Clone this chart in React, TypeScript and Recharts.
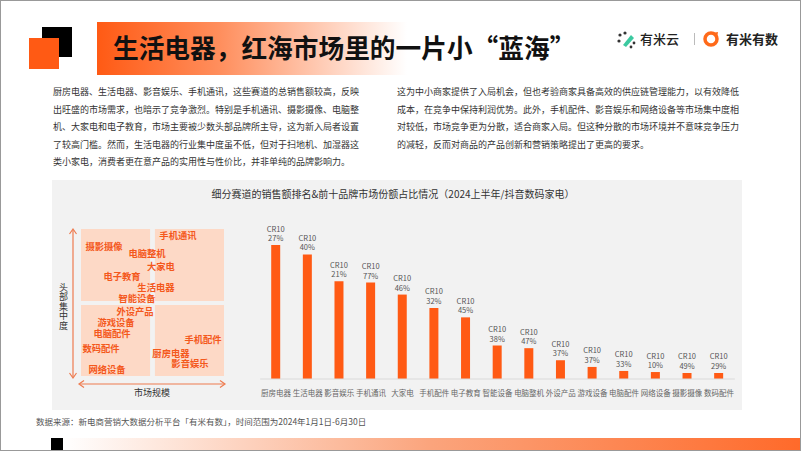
import React from "react";
import {
  BarChart,
  Bar,
  XAxis,
  YAxis,
  LabelList,
  ScatterChart,
  Scatter,
  ReferenceArea,
} from "recharts";

// bar chart: tracks ranked by sales, bar height = relative sales, label = CR10 share
const categories = [
  "厨房电器", "生活电器", "影音娱乐", "手机通讯", "大家电", "手机配件", "电子教育", "智能设备",
  "电脑整机", "外设产品", "游戏设备", "电脑配件", "网络设备", "摄影摄像", "数码配件",
];
const salesIndex = [100, 93, 73, 72, 63, 53, 46, 25, 23, 14, 9, 6, 5.2, 4.5, 4.5];
const cr10 = [27, 40, 21, 77, 46, 32, 45, 38, 47, 37, 37, 33, 10, 49, 29];

// quadrant map: market size (x) vs head concentration (y), 0-100
const quadrantNames = [
  "手机通讯", "摄影摄像", "电脑整机", "大家电", "电子教育", "生活电器", "智能设备", "外设产品",
  "游戏设备", "电脑配件", "数码配件", "网络设备", "手机配件", "厨房电器", "影音娱乐",
];
const quadrantX = [67.8, 16.1, 46.2, 55.9, 28.7, 52.4, 39.2, 37.8, 24.5, 21.7, 14.0, 18.2, 85.3, 62.9, 76.2];
const quadrantY = [95.9, 88.4, 83.7, 74.8, 68.0, 60.5, 52.8, 44.5, 37.0, 29.0, 19.0, 4.8, 25.2, 15.6, 8.8];

const leftParagraph = [
  "厨房电器、生活电器、影音娱乐、手机通讯，这些赛道的总销售额较高，反映",
  "出旺盛的市场需求，也暗示了竞争激烈。特别是手机通讯、摄影摄像、电脑整",
  "机、大家电和电子教育，市场主要被少数头部品牌所主导，这为新入局者设置",
  "了较高门槛。然而，生活电器的行业集中度虽不低，但对于扫地机、加湿器这",
  "类小家电，消费者更在意产品的实用性与性价比，并非单纯的品牌影响力。",
];
const rightParagraph = [
  "这为中小商家提供了入局机会，但也考验商家具备高效的供应链管理能力，以有效降低",
  "成本，在竞争中保持利润优势。此外，手机配件、影音娱乐和网络设备等市场集中度相",
  "对较低，市场竞争更为分散，适合商家入局。但这种分散的市场环境并不意味竞争压力",
  "的减轻，反而对商品的产品创新和营销策略提出了更高的要求。",
];

const ORANGE = "#FF5A14";
const FONT = '"Noto Sans CJK SC", "Noto Sans", sans-serif';

const barData = categories.map((name, i) => ({ name, sales: salesIndex[i], cr: cr10[i] }));
const quadrantData = quadrantNames.map((name, i) => ({ name, x: quadrantX[i], y: quadrantY[i] }));

const CategoryTick = ({ x, y, payload }: any) => (
  <text
    x={x}
    y={Number(y) + 13}
    textAnchor="middle"
    dominantBaseline="central"
    fontSize={7.5}
    fill="#666"
    fontFamily={FONT}
  >
    {payload.value}
  </text>
);

// two-line "CR10 / xx%" label above each bar
const CrLabel = (props: any) => {
  const cx = Number(props.x) + Number(props.width) / 2;
  const top = Number(props.y);
  return (
    <text x={cx} y={top - 13.5} fontFamily={FONT} fontSize={7.5} fill="#555" textAnchor="middle">
      <tspan x={cx}>CR10</tspan>
      <tspan x={cx} dy={9.5}>{props.value}%</tspan>
    </text>
  );
};

const QuadrantLabel = ({ cx, cy, payload }: any) => (
  <text
    x={cx}
    y={cy}
    textAnchor="middle"
    dominantBaseline="central"
    fontSize={9.3}
    fontWeight={700}
    fill="#F4581C"
    fontFamily={FONT}
  >
    {payload.name}
  </text>
);

const Para = ({ lines, left }: { lines: string[]; left: number }) => (
  <div style={{ position: "absolute", left, top: 83, fontSize: 9, lineHeight: "17.5px", color: "#333" }}>
    {lines.map((l, i) => (
      <div key={i} style={{ whiteSpace: "nowrap" }}>{l}</div>
    ))}
  </div>
);

export default function App() {
  return (
    <div
      style={{
        position: "fixed",
        left: 0,
        top: 0,
        width: 802,
        height: 451,
        background: "#fff",
        overflow: "hidden",
        fontFamily: FONT,
      }}
    >
      <div style={{ position: "absolute", left: 0, top: 0, width: 801, height: 451, boxSizing: "border-box", border: "1px solid #999" }} />

      {/* corner squares + title band */}
      <div style={{ position: "absolute", left: 42, top: 27, width: 30, height: 30, background: "#000" }} />
      <div style={{ position: "absolute", left: 29, top: 38, width: 30, height: 31, background: ORANGE }} />
      <div
        style={{
          position: "absolute",
          left: 97,
          top: 22,
          width: 310,
          height: 53,
          background: `linear-gradient(to right, ${ORANGE} 0%, #FF8F5E 40%, #FFFFFF 100%)`,
        }}
      />
      <div
        style={{
          position: "absolute",
          left: 113,
          top: 29,
          fontSize: 25.7,
          fontWeight: 700,
          color: "#111",
          lineHeight: "36px",
          whiteSpace: "nowrap",
        }}
      >
        生活电器，红海市场里的一片小“蓝海”
      </div>

      {/* logos */}
      <svg style={{ position: "absolute", left: 616, top: 30 }} width={22} height={20}>
        <circle cx={4} cy={5} r={1.6} fill="#333" />
        <circle cx={9} cy={3} r={1.6} fill="#333" />
        <circle cx={3} cy={11} r={1.6} fill="#333" />
        <path d="M7 15 L15 5 L18 8 L10 17 Z" fill="#3CC9A0" />
        <circle cx={18} cy={13} r={1.4} fill="#333" />
        <circle cx={15} cy={17} r={1.4} fill="#333" />
      </svg>
      <div style={{ position: "absolute", left: 640, top: 30, fontSize: 13, fontWeight: 500, color: "#222", lineHeight: "18px" }}>
        有米云
      </div>
      <div style={{ position: "absolute", left: 694, top: 33, width: 1, height: 12, background: "#bbb" }} />
      <svg style={{ position: "absolute", left: 703, top: 31 }} width={16} height={16}>
        <circle cx={8} cy={8} r={6} fill="none" stroke="#FF6A1A" strokeWidth={3.5} />
        <path d="M9 2 L15 1 L14 7 Z" fill="#FF6A1A" />
      </svg>
      <div style={{ position: "absolute", left: 726, top: 30, fontSize: 13, fontWeight: 700, color: "#222", lineHeight: "18px" }}>
        有米有数
      </div>

      <Para lines={leftParagraph} left={53} />
      <Para lines={rightParagraph} left={397} />

      {/* chart panel */}
      <div style={{ position: "absolute", left: 52, top: 180, width: 690, height: 230, background: "#F2F2F2" }} />
      <div
        style={{
          position: "absolute",
          left: 52,
          top: 186,
          width: 690,
          textAlign: "center",
          fontSize: 10,
          color: "#333",
          lineHeight: "16px",
          paddingRight: 8,
          boxSizing: "border-box",
        }}
      >
        细分赛道的销售额排名&amp;前十品牌市场份额占比情况（2024上半年/抖音数码家电）
      </div>

      {/* quadrant map */}
      <div style={{ position: "absolute", left: 81, top: 229 }}>
        <ScatterChart width={143} height={147} margin={{ top: 0, right: 0, bottom: 0, left: 0 }}>
          <XAxis type="number" dataKey="x" domain={[0, 100]} hide />
          <YAxis type="number" dataKey="y" domain={[0, 100]} hide />
          <ReferenceArea x1={0} x2={48.3} y1={51} y2={100} fill="#FDD9C6" fillOpacity={1} stroke="none" />
          <ReferenceArea x1={51.7} x2={100} y1={51} y2={100} fill="#FDD9C6" fillOpacity={1} stroke="none" />
          <ReferenceArea x1={0} x2={48.3} y1={0} y2={48.3} fill="#FDD9C6" fillOpacity={1} stroke="none" />
          <ReferenceArea x1={51.7} x2={100} y1={0} y2={48.3} fill="#FDD9C6" fillOpacity={1} stroke="none" />
          <Scatter data={quadrantData} shape={QuadrantLabel} isAnimationActive={false} />
        </ScatterChart>
      </div>
      <svg style={{ position: "absolute", left: 60, top: 222 }} width={175} height={170}>
        <g stroke="#EE7B4F" strokeWidth={1.2} fill="none">
          <line x1={13} y1={8} x2={13} y2={155} />
          <polyline points="9.5,12 13,7 16.5,12" />
          <polyline points="9.5,151 13,156 16.5,151" />
          <line x1={20} y1={162} x2={164} y2={162} />
          <polyline points="24,158.5 19,162 24,165.5" />
          <polyline points="160,158.5 165,162 160,165.5" />
        </g>
      </svg>
      <div
        style={{
          position: "absolute",
          left: 57,
          top: 283,
          fontSize: 9,
          lineHeight: "12px",
          letterSpacing: 0.5,
          color: "#333",
          writingMode: "vertical-rl",
        }}
      >
        头部集中度
      </div>
      <div style={{ position: "absolute", left: 122, top: 386, width: 60, textAlign: "center", fontSize: 9, color: "#333", lineHeight: "14px" }}>
        市场规模
      </div>

      {/* sales ranking bars */}
      <div style={{ position: "absolute", left: 250, top: 215 }}>
        <BarChart width={495} height={190} data={barData} margin={{ top: 30, right: 10.2, bottom: 0, left: 10.2 }}>
          <XAxis
            dataKey="name"
            height={26}
            interval={0}
            tickLine={false}
            tickSize={0}
            tickMargin={0}
            axisLine={{ stroke: "#DADADA" }}
            tick={<CategoryTick />}
          />
          <YAxis hide domain={[0, 100]} />
          <Bar dataKey="sales" fill={ORANGE} barSize={9} isAnimationActive={false}>
            <LabelList dataKey="cr" content={<CrLabel />} />
          </Bar>
        </BarChart>
      </div>

      {/* footer */}
      <div style={{ position: "absolute", left: 36, top: 414, fontSize: 8.5, color: "#555", lineHeight: "14px", whiteSpace: "nowrap" }}>
        数据来源：新电商营销大数据分析平台「有米有数」，时间范围为2024年1月1日-6月30日
      </div>
      <div style={{ position: "absolute", left: 51, top: 438, width: 12, height: 12, background: "#000" }} />
      <div
        style={{
          position: "absolute",
          left: 63,
          top: 438,
          width: 737,
          height: 12,
          background: "linear-gradient(to right, #FFFFFF 0%, #FBA47C 50%, #FF6A2A 100%)",
        }}
      />
    </div>
  );
}
